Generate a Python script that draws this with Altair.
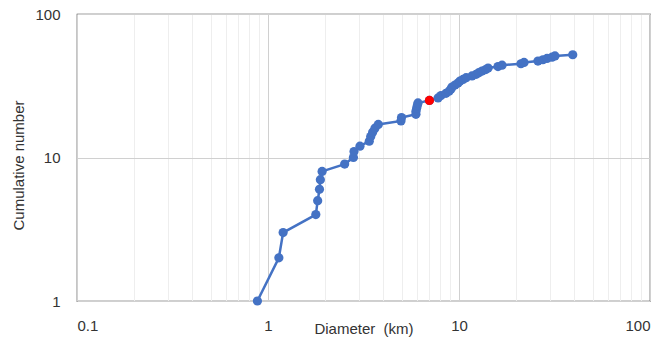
import altair as alt
import pandas as pd

# Cumulative count versus crater diameter (km)
diameter_km = [0.88, 1.14, 1.20, 1.78, 1.82, 1.86, 1.88, 1.92, 2.52, 2.80,
               2.82, 3.03, 3.39, 3.45, 3.53, 3.63, 3.78, 4.97, 5.00, 5.95,
               5.95, 6.00, 6.05, 6.10, 7.00, 7.77, 8.05, 8.55, 8.87, 9.08,
               9.19, 9.53, 9.88, 10.1, 10.5, 10.9, 11.7, 12.3, 12.7, 13.2,
               13.8, 14.2, 16.0, 16.8, 21.1, 21.9, 25.9, 27.5, 28.9, 30.7,
               31.8, 39.4]
cumulative = [1, 2, 3, 4, 5, 6, 7, 8, 9, 10,
              11, 12, 13, 14, 15, 16, 17, 18, 19, 20,
              21, 22, 23, 24, 25, 26, 27, 28, 29, 30,
              31, 32, 33, 34, 35, 36, 37, 38, 39, 40,
              41, 42, 43, 44, 45, 46, 47, 48, 49, 50,
              51, 52]

highlight_diameter = [7.00]
highlight_count = [25]

x_ticks = [0.1, 0.2, 0.3, 0.4, 0.5, 0.6, 0.7, 0.8, 0.9,
           1, 2, 3, 4, 5, 6, 7, 8, 9,
           10, 20, 30, 40, 50, 60, 70, 80, 90, 100]
y_ticks = [1, 10, 100]

df = pd.DataFrame({"d": diameter_km, "n": cumulative})
hl = pd.DataFrame({"d": highlight_diameter, "n": highlight_count})

FONT = "Liberation Sans"
TXT = "#333333"
decade_test = "abs(log(datum.value)/LN10 - round(log(datum.value)/LN10)) < 0.001"

x_enc = alt.X(
    "d:Q",
    scale=alt.Scale(type="log", domain=[0.1, 100], nice=False),
    axis=alt.Axis(
        values=x_ticks,
        title="Diameter\u00a0\u00a0(km)",
        titleY=27,
        titleBaseline="middle",
        titleFontWeight="normal",
        titleFontSize=15,
        titleColor=TXT,
        titleFont=FONT,
        labelExpr=f"({decade_test}) ? format(datum.value, '~g') : ''",
        labelOverlap=False,
        labelFontSize=15,
        labelFont=FONT,
        labelColor=TXT,
        labelPadding=17,
        ticks=False,
        domain=False,
        gridColor={"condition": {"test": decade_test, "value": "#d0d0d0"},
                   "value": "#eeeeee"},
        gridWidth=1,
    ),
)
y_enc = alt.Y(
    "n:Q",
    scale=alt.Scale(type="log", domain=[1, 100], nice=False),
    axis=alt.Axis(
        values=y_ticks,
        title="Cumulative number",
        titleX=-59,
        titleY=151,
        titleAngle=270,
        titleAlign="center",
        titleBaseline="middle",
        titleFontWeight="normal",
        titleFontSize=15,
        titleColor=TXT,
        titleFont=FONT,
        format="~g",
        labelFontSize=15,
        labelFont=FONT,
        labelColor=TXT,
        labelPadding=17,
        ticks=False,
        domain=False,
        gridColor="#d0d0d0",
    ),
)

line = alt.Chart(df).mark_line(
    color="#4472C4", strokeWidth=2.5,
    point=alt.OverlayMarkDef(color="#4472C4", size=85, filled=True, opacity=1),
).encode(x=x_enc, y=y_enc, order="n:Q")

red = alt.Chart(hl).mark_point(
    color="#FF0000", size=85, filled=True, opacity=1
).encode(x="d:Q", y="n:Q")

chart = (line + red).properties(
    width=573,
    height=287,
    autosize=alt.AutoSizeParams(type="none"),
    padding={"left": 77, "top": 14, "right": 14, "bottom": 38},
    background="white",
).configure_view(stroke="#404040", strokeWidth=1.2)

chart.save("out.html", embed_options={"renderer": "svg", "actions": False})
